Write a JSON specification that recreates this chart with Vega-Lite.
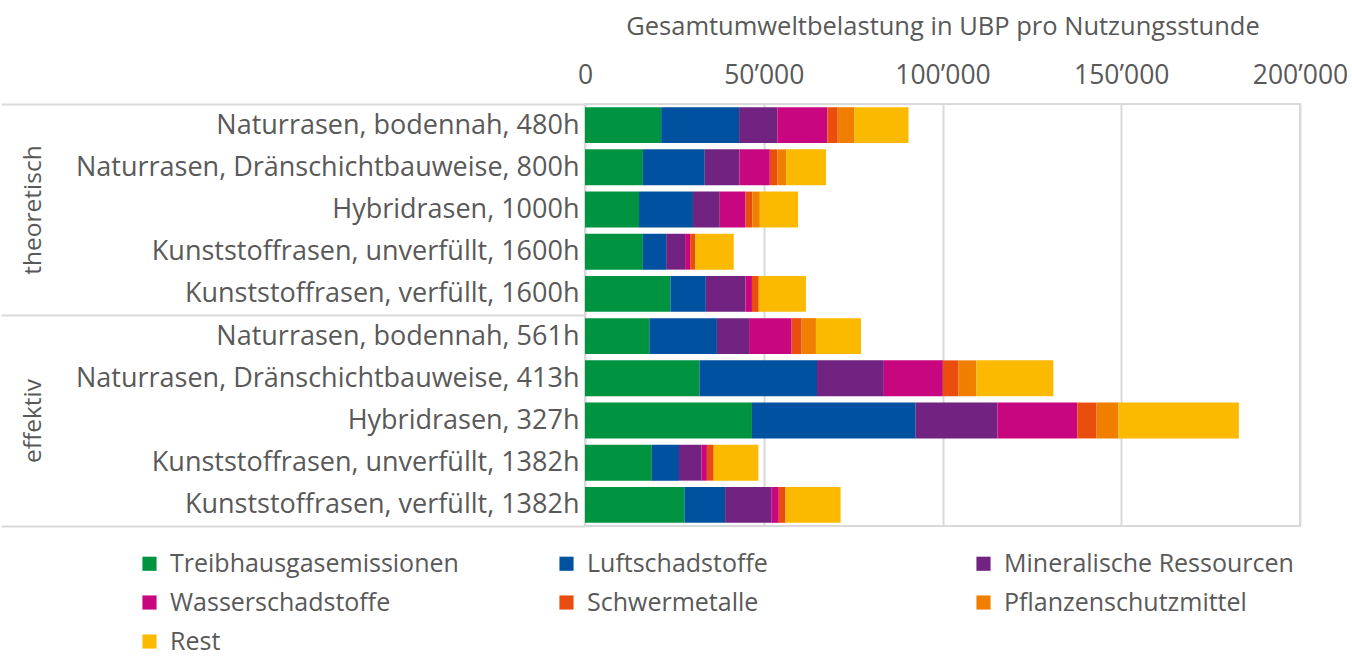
{
  "$schema": "https://vega.github.io/schema/vega-lite/v6.json",
  "width": 715,
  "height": 422,
  "padding": {"left": 0, "top": 14, "right": 12, "bottom": 0},
  "background": "white",
  "config": {
    "font": "Open Sans",
    "view": {"stroke": "#D9D9D9", "strokeWidth": 2},
    "axis": {"labelFont": "Open Sans", "titleFont": "Open Sans"},
    "legend": {"labelFont": "Open Sans"}
  },
  "data": {
    "values": [
      {"v": "Naturrasen, bodennah, 480h", "c": "Treibhausgasemissionen", "k": 1, "u": 21300},
      {"v": "Naturrasen, bodennah, 480h", "c": "Luftschadstoffe", "k": 2, "u": 21800},
      {"v": "Naturrasen, bodennah, 480h", "c": "Mineralische Ressourcen", "k": 3, "u": 10700},
      {"v": "Naturrasen, bodennah, 480h", "c": "Wasserschadstoffe", "k": 4, "u": 14000},
      {"v": "Naturrasen, bodennah, 480h", "c": "Schwermetalle", "k": 5, "u": 2900},
      {"v": "Naturrasen, bodennah, 480h", "c": "Pflanzenschutzmittel", "k": 6, "u": 4700},
      {"v": "Naturrasen, bodennah, 480h", "c": "Rest", "k": 7, "u": 15100},
      {"v": "Naturrasen, Dränschichtbauweise, 800h", "c": "Treibhausgasemissionen", "k": 1, "u": 16200},
      {"v": "Naturrasen, Dränschichtbauweise, 800h", "c": "Luftschadstoffe", "k": 2, "u": 17300},
      {"v": "Naturrasen, Dränschichtbauweise, 800h", "c": "Mineralische Ressourcen", "k": 3, "u": 9700},
      {"v": "Naturrasen, Dränschichtbauweise, 800h", "c": "Wasserschadstoffe", "k": 4, "u": 8500},
      {"v": "Naturrasen, Dränschichtbauweise, 800h", "c": "Schwermetalle", "k": 5, "u": 2100},
      {"v": "Naturrasen, Dränschichtbauweise, 800h", "c": "Pflanzenschutzmittel", "k": 6, "u": 2500},
      {"v": "Naturrasen, Dränschichtbauweise, 800h", "c": "Rest", "k": 7, "u": 11100},
      {"v": "Hybridrasen, 1000h", "c": "Treibhausgasemissionen", "k": 1, "u": 15100},
      {"v": "Hybridrasen, 1000h", "c": "Luftschadstoffe", "k": 2, "u": 15100},
      {"v": "Hybridrasen, 1000h", "c": "Mineralische Ressourcen", "k": 3, "u": 7500},
      {"v": "Hybridrasen, 1000h", "c": "Wasserschadstoffe", "k": 4, "u": 7200},
      {"v": "Hybridrasen, 1000h", "c": "Schwermetalle", "k": 5, "u": 1900},
      {"v": "Hybridrasen, 1000h", "c": "Pflanzenschutzmittel", "k": 6, "u": 2100},
      {"v": "Hybridrasen, 1000h", "c": "Rest", "k": 7, "u": 10700},
      {"v": "Kunststoffrasen, unverfüllt, 1600h", "c": "Treibhausgasemissionen", "k": 1, "u": 16200},
      {"v": "Kunststoffrasen, unverfüllt, 1600h", "c": "Luftschadstoffe", "k": 2, "u": 6500},
      {"v": "Kunststoffrasen, unverfüllt, 1600h", "c": "Mineralische Ressourcen", "k": 3, "u": 5300},
      {"v": "Kunststoffrasen, unverfüllt, 1600h", "c": "Wasserschadstoffe", "k": 4, "u": 1400},
      {"v": "Kunststoffrasen, unverfüllt, 1600h", "c": "Schwermetalle", "k": 5, "u": 1500},
      {"v": "Kunststoffrasen, unverfüllt, 1600h", "c": "Pflanzenschutzmittel", "k": 6, "u": 0},
      {"v": "Kunststoffrasen, unverfüllt, 1600h", "c": "Rest", "k": 7, "u": 10700},
      {"v": "Kunststoffrasen, verfüllt, 1600h", "c": "Treibhausgasemissionen", "k": 1, "u": 23900},
      {"v": "Kunststoffrasen, verfüllt, 1600h", "c": "Luftschadstoffe", "k": 2, "u": 9900},
      {"v": "Kunststoffrasen, verfüllt, 1600h", "c": "Mineralische Ressourcen", "k": 3, "u": 11100},
      {"v": "Kunststoffrasen, verfüllt, 1600h", "c": "Wasserschadstoffe", "k": 4, "u": 1800},
      {"v": "Kunststoffrasen, verfüllt, 1600h", "c": "Schwermetalle", "k": 5, "u": 1900},
      {"v": "Kunststoffrasen, verfüllt, 1600h", "c": "Pflanzenschutzmittel", "k": 6, "u": 0},
      {"v": "Kunststoffrasen, verfüllt, 1600h", "c": "Rest", "k": 7, "u": 13200},
      {"v": "Naturrasen, bodennah, 561h", "c": "Treibhausgasemissionen", "k": 1, "u": 18000},
      {"v": "Naturrasen, bodennah, 561h", "c": "Luftschadstoffe", "k": 2, "u": 18900},
      {"v": "Naturrasen, bodennah, 561h", "c": "Mineralische Ressourcen", "k": 3, "u": 9000},
      {"v": "Naturrasen, bodennah, 561h", "c": "Wasserschadstoffe", "k": 4, "u": 11900},
      {"v": "Naturrasen, bodennah, 561h", "c": "Schwermetalle", "k": 5, "u": 2800},
      {"v": "Naturrasen, bodennah, 561h", "c": "Pflanzenschutzmittel", "k": 6, "u": 4000},
      {"v": "Naturrasen, bodennah, 561h", "c": "Rest", "k": 7, "u": 12600},
      {"v": "Naturrasen, Dränschichtbauweise, 413h", "c": "Treibhausgasemissionen", "k": 1, "u": 32000},
      {"v": "Naturrasen, Dränschichtbauweise, 413h", "c": "Luftschadstoffe", "k": 2, "u": 32900},
      {"v": "Naturrasen, Dränschichtbauweise, 413h", "c": "Mineralische Ressourcen", "k": 3, "u": 18700},
      {"v": "Naturrasen, Dränschichtbauweise, 413h", "c": "Wasserschadstoffe", "k": 4, "u": 16500},
      {"v": "Naturrasen, Dränschichtbauweise, 413h", "c": "Schwermetalle", "k": 5, "u": 4400},
      {"v": "Naturrasen, Dränschichtbauweise, 413h", "c": "Pflanzenschutzmittel", "k": 6, "u": 5000},
      {"v": "Naturrasen, Dränschichtbauweise, 413h", "c": "Rest", "k": 7, "u": 21500},
      {"v": "Hybridrasen, 327h", "c": "Treibhausgasemissionen", "k": 1, "u": 46700},
      {"v": "Hybridrasen, 327h", "c": "Luftschadstoffe", "k": 2, "u": 45800},
      {"v": "Hybridrasen, 327h", "c": "Mineralische Ressourcen", "k": 3, "u": 22900},
      {"v": "Hybridrasen, 327h", "c": "Wasserschadstoffe", "k": 4, "u": 22300},
      {"v": "Hybridrasen, 327h", "c": "Schwermetalle", "k": 5, "u": 5400},
      {"v": "Hybridrasen, 327h", "c": "Pflanzenschutzmittel", "k": 6, "u": 6100},
      {"v": "Hybridrasen, 327h", "c": "Rest", "k": 7, "u": 33700},
      {"v": "Kunststoffrasen, unverfüllt, 1382h", "c": "Treibhausgasemissionen", "k": 1, "u": 18700},
      {"v": "Kunststoffrasen, unverfüllt, 1382h", "c": "Luftschadstoffe", "k": 2, "u": 7600},
      {"v": "Kunststoffrasen, unverfüllt, 1382h", "c": "Mineralische Ressourcen", "k": 3, "u": 6300},
      {"v": "Kunststoffrasen, unverfüllt, 1382h", "c": "Wasserschadstoffe", "k": 4, "u": 1500},
      {"v": "Kunststoffrasen, unverfüllt, 1382h", "c": "Schwermetalle", "k": 5, "u": 1900},
      {"v": "Kunststoffrasen, unverfüllt, 1382h", "c": "Pflanzenschutzmittel", "k": 6, "u": 0},
      {"v": "Kunststoffrasen, unverfüllt, 1382h", "c": "Rest", "k": 7, "u": 12500},
      {"v": "Kunststoffrasen, verfüllt, 1382h", "c": "Treibhausgasemissionen", "k": 1, "u": 27800},
      {"v": "Kunststoffrasen, verfüllt, 1382h", "c": "Luftschadstoffe", "k": 2, "u": 11400},
      {"v": "Kunststoffrasen, verfüllt, 1382h", "c": "Mineralische Ressourcen", "k": 3, "u": 12900},
      {"v": "Kunststoffrasen, verfüllt, 1382h", "c": "Wasserschadstoffe", "k": 4, "u": 2100},
      {"v": "Kunststoffrasen, verfüllt, 1382h", "c": "Schwermetalle", "k": 5, "u": 1900},
      {"v": "Kunststoffrasen, verfüllt, 1382h", "c": "Pflanzenschutzmittel", "k": 6, "u": 0},
      {"v": "Kunststoffrasen, verfüllt, 1382h", "c": "Rest", "k": 7, "u": 15400}
    ]
  },
  "layer": [
    {
      "mark": {"type": "bar"},
      "encoding": {
        "y": {
          "field": "v", "type": "nominal",
          "sort": ["Naturrasen, bodennah, 480h", "Naturrasen, Dränschichtbauweise, 800h", "Hybridrasen, 1000h", "Kunststoffrasen, unverfüllt, 1600h", "Kunststoffrasen, verfüllt, 1600h", "Naturrasen, bodennah, 561h", "Naturrasen, Dränschichtbauweise, 413h", "Hybridrasen, 327h", "Kunststoffrasen, unverfüllt, 1382h", "Kunststoffrasen, verfüllt, 1382h"],
          "scale": {"paddingInner": 0.15, "paddingOuter": 0.075},
          "axis": {
            "orient": "left", "title": null, "domain": false,
            "ticks": true, "tickSize": 584, "tickWidth": 2, "tickColor": "#D9D9D9",
            "tickOffset": 21.1,
            "tickOpacity": {"condition": {"test": "datum.value === 'Kunststoffrasen, verfüllt, 1382h'", "value": 1}, "value": 0},
            "labelPadding": -578, "labelOffset": -21.1,
            "labelFontSize": 27, "labelColor": "#595959", "labelLimit": 700
          }
        },
        "x": {
          "field": "u", "type": "quantitative", "stack": "zero",
          "scale": {"domain": [0, 200000], "nice": false},
          "axis": {
            "orient": "top", "title": "Gesamtumweltbelastung in UBP pro Nutzungsstunde",
            "values": [0, 50000, 100000, 150000, 200000],
            "labelExpr": "replace(format(datum.value, ','), ',', '’')",
            "domain": false, "ticks": false, "grid": true, "gridColor": "#D9D9D9", "gridWidth": 2,
            "labelPadding": 15, "titlePadding": 23, "labelFlush": false,
            "labelFontSize": 26.5, "titleFontSize": 25.5, "titleFontWeight": "normal",
            "labelColor": "#595959", "titleColor": "#595959"
          }
        },
        "color": {
          "field": "c", "type": "nominal",
          "scale": {
            "domain": ["Treibhausgasemissionen", "Luftschadstoffe", "Mineralische Ressourcen", "Wasserschadstoffe", "Schwermetalle", "Pflanzenschutzmittel", "Rest"],
            "range": ["#009340", "#0052A0", "#722280", "#C8067F", "#E94E0F", "#F07F00", "#FBBA00"]
          },
          "legend": {
            "orient": "none", "direction": "horizontal", "legendX": -448, "legendY": 447,
            "columns": 3, "title": null, "symbolType": "square", "symbolSize": 200, "symbolStrokeWidth": 0,
            "labelFontSize": 25, "labelColor": "#595959", "labelLimit": 600, "labelOffset": 8,
            "gridAlign": "all", "columnPadding": 94, "rowPadding": 13
          }
        },
        "order": {"field": "k", "type": "quantitative"}
      }
    },
    {
      "mark": {"type": "text", "text": ""},
      "encoding": {
        "y": {
          "field": "v", "type": "nominal",
          "sort": ["Naturrasen, bodennah, 480h", "Naturrasen, Dränschichtbauweise, 800h", "Hybridrasen, 1000h", "Kunststoffrasen, unverfüllt, 1600h", "Kunststoffrasen, verfüllt, 1600h", "Naturrasen, bodennah, 561h", "Naturrasen, Dränschichtbauweise, 413h", "Hybridrasen, 327h", "Kunststoffrasen, unverfüllt, 1382h", "Kunststoffrasen, verfüllt, 1382h"],
          "axis": {
            "orient": "left", "title": null, "domain": false,
            "ticks": true, "tickSize": 584, "tickWidth": 2, "tickColor": "#D9D9D9",
            "tickOffset": -21.1,
            "tickOpacity": {"condition": {"test": "datum.value === 'Naturrasen, bodennah, 480h' || datum.value === 'Naturrasen, bodennah, 561h'", "value": 1}, "value": 0},
            "labelExpr": "datum.value === 'Hybridrasen, 1000h' ? 'theoretisch' : (datum.value === 'Hybridrasen, 327h' ? 'effektiv' : '')",
            "labelAngle": -90, "labelAlign": "center", "labelBaseline": "bottom",
            "labelPadding": -44, "labelOffset": 21.1,
            "labelFontSize": 24.5, "labelColor": "#595959"
          }
        }
      }
    }
  ],
  "resolve": {"axis": {"y": "independent"}}
}
